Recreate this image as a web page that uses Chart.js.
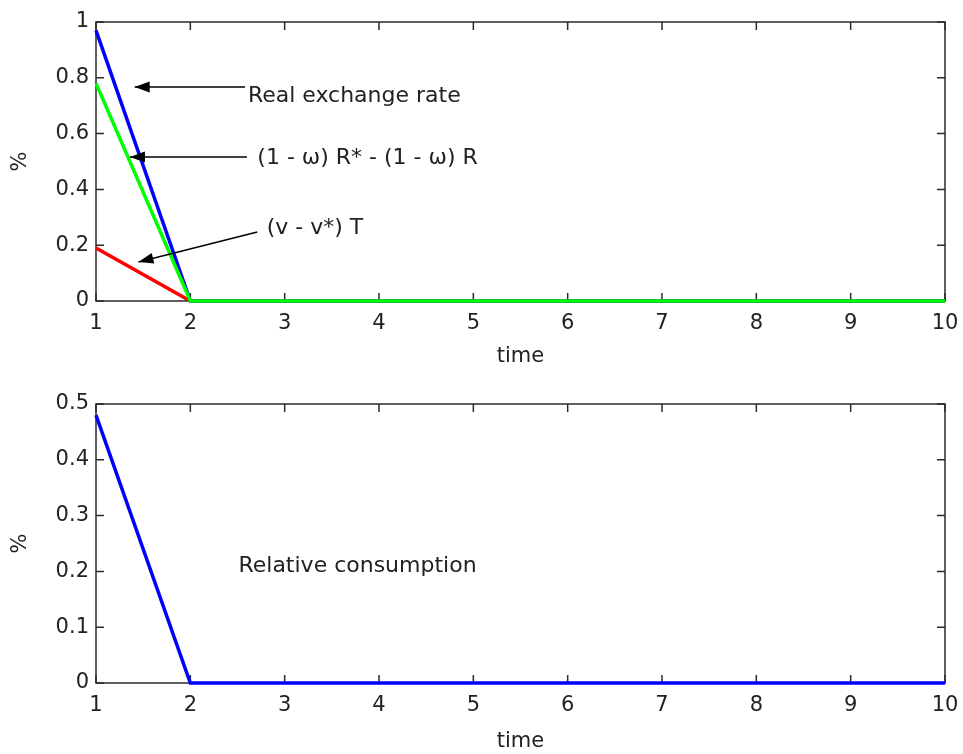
<!DOCTYPE html>
<html>
<head>
<meta charset="utf-8">
<script src="https://cdn.jsdelivr.net/npm/chart.js@4/dist/chart.umd.min.js"></script>
<style>
  html, body { margin: 0; padding: 0; background: #fff; }
  .box { position: absolute; left: 0; width: 963px; height: 377px; }
</style>
</head>
<body>
<div class="box" style="top:0"><canvas id="topChart"></canvas></div>
<div class="box" style="top:377px"><canvas id="bottomChart"></canvas></div>
<script>
// data
const periods = [1, 2, 3, 4, 5, 6, 7, 8, 9, 10];
const realExchangeRate = [0.97, 0, 0, 0, 0, 0, 0, 0, 0, 0];
const interestTerm = [0.78, 0, 0, 0, 0, 0, 0, 0, 0, 0];   // (1 - ω) R* - (1 - ω) R
const tradeTerm = [0.19, 0, 0, 0, 0, 0, 0, 0, 0, 0];      // (v - v*) T
const relativeConsumption = [0.48, 0, 0, 0, 0, 0, 0, 0, 0, 0];

const topYTicks = [0, 0.2, 0.4, 0.6, 0.8, 1];
const bottomYTicks = [0, 0.1, 0.2, 0.3, 0.4, 0.5];

const FONT = 'DejaVu Sans';
const INK = '#222';
const AXIS = '#2b2b2b';

const toPoints = ys => ys.map((y, i) => ({ x: periods[i], y: y }));

// matlab-style box with inward ticks on all four sides, under the lines
const boxPlugin = {
  id: 'matlabBox',
  beforeDatasetsDraw(chart) {
    const { ctx, chartArea: a, scales } = chart;
    ctx.save();
    ctx.strokeStyle = AXIS;
    ctx.lineWidth = 1.5;
    ctx.strokeRect(a.left, a.top, a.right - a.left, a.bottom - a.top);
    const len = 8;
    ctx.beginPath();
    scales.x.ticks.forEach(t => {
      const px = scales.x.getPixelForValue(t.value);
      ctx.moveTo(px, a.bottom); ctx.lineTo(px, a.bottom - len);
      ctx.moveTo(px, a.top); ctx.lineTo(px, a.top + len);
    });
    scales.y.ticks.forEach(t => {
      const py = scales.y.getPixelForValue(t.value);
      ctx.moveTo(a.left, py); ctx.lineTo(a.left + len, py);
      ctx.moveTo(a.right, py); ctx.lineTo(a.right - len, py);
    });
    ctx.stroke();
    ctx.restore();
  }
};

// text notes and arrows, placed in data units
function arrow(ctx, x1, y1, x2, y2) {
  ctx.beginPath();
  ctx.moveTo(x1, y1); ctx.lineTo(x2, y2);
  ctx.stroke();
  const ang = Math.atan2(y2 - y1, x2 - x1);
  const hl = 15, hw = 5.5;
  ctx.beginPath();
  ctx.moveTo(x2, y2);
  ctx.lineTo(x2 - hl * Math.cos(ang) + hw * Math.sin(ang), y2 - hl * Math.sin(ang) - hw * Math.cos(ang));
  ctx.lineTo(x2 - hl * Math.cos(ang) - hw * Math.sin(ang), y2 - hl * Math.sin(ang) + hw * Math.cos(ang));
  ctx.closePath();
  ctx.fill();
}

const notesPlugin = {
  id: 'notes',
  afterDraw(chart) {
    const notes = chart.options.plugins.notes || {};
    const { ctx, scales } = chart;
    const X = v => scales.x.getPixelForValue(v);
    const Y = v => scales.y.getPixelForValue(v);
    ctx.save();
    ctx.fillStyle = INK;
    ctx.strokeStyle = '#000';
    ctx.lineWidth = 1.6;
    ctx.font = '22px "' + FONT + '"';
    ctx.textBaseline = 'middle';
    (notes.texts || []).forEach(n => ctx.fillText(n.text, X(n.x), Y(n.y)));
    ctx.fillStyle = '#000';
    (notes.arrows || []).forEach(n => arrow(ctx, X(n.from[0]), Y(n.from[1]), X(n.to[0]), Y(n.to[1])));
    ctx.restore();
  }
};

function baseOptions(yMin, yMax, yTicks, xHeight, padTop, titlePad) {
  return {
    responsive: true,
    maintainAspectRatio: false,
    animation: false,
    layout: { padding: { top: padTop, right: 18, left: 0, bottom: 0 } },
    plugins: { legend: { display: false }, tooltip: { enabled: false } },
    elements: { point: { radius: 0 }, line: { borderWidth: 3.5, tension: 0 } },
    scales: {
      x: {
        type: 'linear', min: 1, max: 10,
        grid: { display: false, drawTicks: false },
        border: { display: false },
        afterBuildTicks: s => { s.ticks = periods.map(v => ({ value: v })); },
        ticks: { color: INK, font: { family: FONT, size: 21 }, padding: 10, maxRotation: 0 },
        title: { display: true, text: 'time', color: INK, font: { family: FONT, size: 21 }, padding: titlePad },
        afterFit: s => { s.height = xHeight; s.paddingLeft = 0; s.paddingRight = 0; }
      },
      y: {
        min: yMin, max: yMax,
        grid: { display: false, drawTicks: false },
        border: { display: false },
        afterBuildTicks: s => { s.ticks = yTicks.map(v => ({ value: v })); },
        ticks: { color: INK, font: { family: FONT, size: 21 }, padding: 7, callback: v => String(v) },
        title: { display: true, text: '%', color: INK, font: { family: FONT, size: 21 }, padding: { top: 8, bottom: 0 } },
        afterFit: s => { s.width = 96; s.paddingTop = 0; s.paddingBottom = 0; }
      }
    }
  };
}

const topOpts = baseOptions(0, 1, topYTicks, 76, 22, { top: 0, bottom: 8 });
topOpts.plugins.notes = {
  texts: [
    { text: 'Real exchange rate', x: 2.61, y: 0.735 },
    { text: '(1 - \u03c9) R* - (1 - \u03c9) R', x: 2.71, y: 0.51 },
    { text: '(v - v*) T', x: 2.81, y: 0.26 }
  ],
  arrows: [
    { from: [2.58, 0.767], to: [1.41, 0.767] },
    { from: [2.60, 0.516], to: [1.36, 0.516] },
    { from: [2.71, 0.247], to: [1.45, 0.14] }
  ]
};

new Chart(document.getElementById('topChart'), {
  type: 'line',
  data: {
    datasets: [
      { data: toPoints(interestTerm), borderColor: '#00ff00', order: 0, clip: false },
      { data: toPoints(realExchangeRate), borderColor: '#0000ff', order: 1, clip: false },
      { data: toPoints(tradeTerm), borderColor: '#ff0000', order: 2, clip: false }
    ]
  },
  options: topOpts,
  plugins: [boxPlugin, notesPlugin]
});

const bottomOpts = baseOptions(0, 0.5, bottomYTicks, 71, 27, { top: 0, bottom: 0 });
bottomOpts.plugins.notes = {
  texts: [{ text: 'Relative consumption', x: 2.51, y: 0.21 }],
  arrows: []
};

new Chart(document.getElementById('bottomChart'), {
  type: 'line',
  data: {
    datasets: [
      { data: toPoints(relativeConsumption), borderColor: '#0000ff', clip: false }
    ]
  },
  options: bottomOpts,
  plugins: [boxPlugin, notesPlugin]
});
</script>
</body>
</html>
